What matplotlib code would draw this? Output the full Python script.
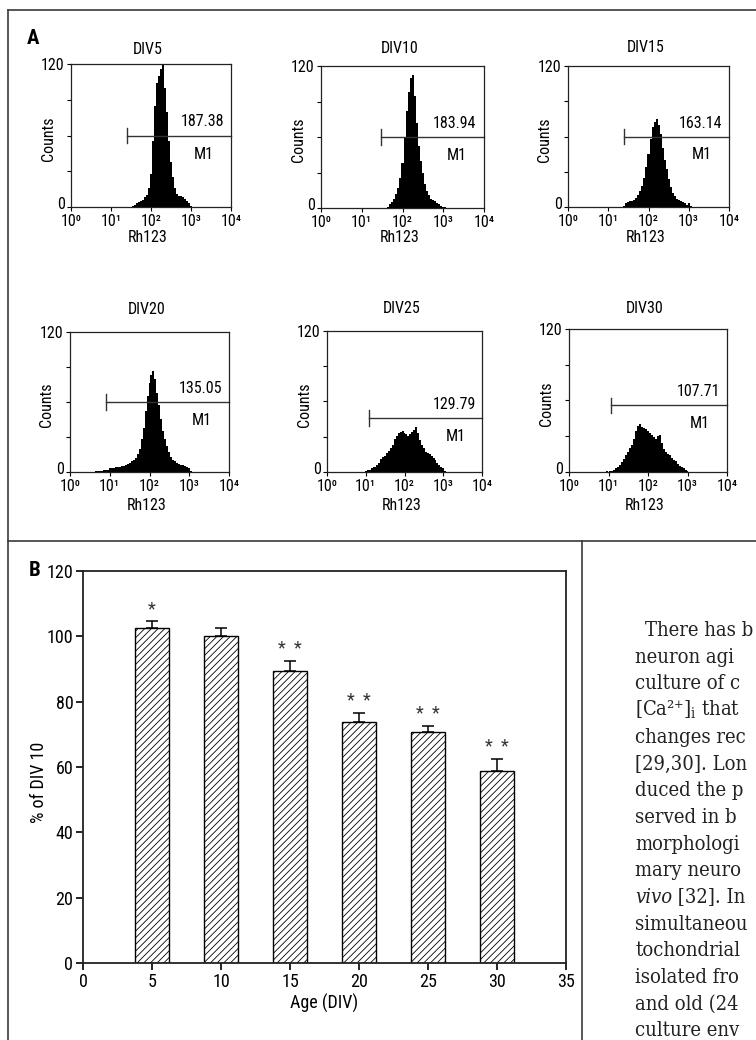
#!/usr/bin/env python3
"""Flow cytometry Rh123 histograms (A) and % of DIV10 bar chart (B)"""

import os
import numpy as np
import matplotlib
matplotlib.use("Agg")
import matplotlib.pyplot as plt
import matplotlib.font_manager as fm
from matplotlib.lines import Line2D
from matplotlib.ticker import NullFormatter
from matplotlib.transforms import ScaledTranslation

W, H = 756, 1040
DPI = 100

# ---------------- data ----------------
PANELS = ["DIV5", "DIV10", "DIV15", "DIV20", "DIV25", "DIV30"]
M1_VALUES = ["187.38", "183.94", "163.14", "135.05", "129.79", "107.71"]
M1_START = [25, 29.5, 24.5, 7.9, 12, 11.5]   # left end of the M1 gate (Rh123)
M1_LEVEL = [60, 60, 60, 60, 46, 56]           # height of the gate (counts)

BIN_STEP = 0.05                                # decades per bin
HIST_START = [1.55, 1.65, 1.40, 0.65, 1.00, 0.95]  # log10 of first bin centre
HIST_DIV5 = [1, 2, 3, 4, 5, 6, 8, 10, 16, 28, 55, 85, 104, 110, 116, 119, 100, 80,
             55, 38, 25, 16, 11, 9, 9, 8, 7, 5, 3, 1]
HIST_DIV10 = [1, 3, 5, 8, 12, 17, 25, 38, 60, 82, 98, 110, 112, 95, 72, 52, 40, 30,
              20, 14, 11, 8, 7, 6, 4, 3, 2, 1, 1]
HIST_DIV15 = [1, 3, 4, 5, 5, 6, 8, 10, 14, 18, 25, 34, 45, 58, 68, 72, 75, 70, 62,
              50, 40, 32, 24, 17, 12, 9, 7, 6, 5, 4, 3, 2, 3, 1]
HIST_DIV20 = [1, 1, 1, 1, 2, 2, 2, 3, 3, 3, 4, 4, 4, 5, 5, 6, 7, 8, 9, 10, 12, 15,
              20, 28, 38, 52, 65, 76, 83, 87, 80, 68, 57, 45, 35, 28, 22, 17, 13, 10,
              9, 8, 7, 6, 6, 5, 4, 3, 1]
HIST_DIV25 = [1, 2, 2, 3, 4, 4, 6, 8, 11, 13, 14, 16, 18, 20, 23, 28, 31, 33, 34, 35,
              33, 32, 31, 32, 34, 36, 38, 33, 27, 23, 20, 17, 16, 15, 14, 12, 10, 8,
              6, 4, 3, 1]
HIST_DIV30 = [1, 0, 1, 1, 2, 3, 4, 6, 8, 11, 14, 17, 20, 23, 28, 34, 39, 40, 38, 37,
              36, 34, 33, 31, 29, 28, 30, 31, 24, 19, 17, 15, 14, 12, 10, 9, 7, 5,
              4, 3, 2, 1]
HISTS = [HIST_DIV5, HIST_DIV10, HIST_DIV15, HIST_DIV20, HIST_DIV25, HIST_DIV30]

X_TICKS = [1, 10, 100, 1000, 10000]
X_TICK_LABELS = ["10⁰", "10¹", "10²", "10³", "10⁴"]
Y_TICKS = [0, 120]

AGE = [5, 10, 15, 20, 25, 30]
PCT = [102.4, 100.0, 89.3, 73.9, 70.6, 58.7]
SEM = [2.4, 2.4, 3.2, 2.6, 2.0, 3.7]
SIG = ["*", "", "* *", "* *", "* *", "* *"]

# body text next to panel B (cut off by the page edge)
BODY_LINES = [
    "There has b", "neuron agi", "culture of c", "[Ca²⁺]$_{\\rm i}$ that",
    "changes rec", "[29,30]. Lon", "duced the p", "served in b",
    "morphologi", "mary neuro", None, "simultaneou", "tochondrial",
    "isolated fro", "and old (24", "culture env",
]

# ---------------- layout (pixels) ----------------
HIST_BOXES = [(71, 64, 231, 207), (321, 66, 484, 208), (568, 66, 729, 207),
              (70, 332, 229, 472), (327, 331, 482, 472), (569, 329, 727, 472)]
TITLE_Y = [49, 48, 47, 310, 308, 308]
XLABEL_Y = [238, 238, 238, 506, 506, 506]
BAR_BOX = (83, 571, 566, 963)
HFS = 11.5   # histogram text size
BFS = 13     # bar chart text size


def fx(x):
    return x / W


def fy(y):
    return 1 - y / H


def setup_font():
    """細字(condensed)フォントを探す"""
    wanted = ["robotocondensed-regular", "notosans-condensed.", "opensans_condensed-regular",
              "opensans-condensed", "dejavusanscondensed.", "liberationsansnarrow-regular"]
    for w in wanted:
        for e in fm.fontManager.ttflist:
            if os.path.basename(e.fname).lower().startswith(w):
                plt.rcParams["font.family"] = [e.name, "DejaVu Sans"]
                plt.rcParams["font.stretch"] = e.stretch
                print("font:", e.name, e.stretch, e.fname)
                return True
    print("no condensed font found")
    return False


def add_axes_px(fig, box):
    l, t, r, b = box
    return fig.add_axes([fx(l), fy(b), (r - l) / W, (b - t) / H])


def draw_hist(fig, i):
    ax = add_axes_px(fig, HIST_BOXES[i])
    counts = np.array(HISTS[i], dtype=float)
    edges = 10 ** (HIST_START[i] - BIN_STEP / 2 + BIN_STEP * np.arange(len(counts) + 1))
    ax.stairs(counts, edges, fill=True, color="black", linewidth=0)

    ax.set_xscale("log")
    ax.set_xlim(1, 1e4)
    ax.set_ylim(0, 120)
    ax.set_xticks(X_TICKS)
    ax.set_xticklabels(X_TICK_LABELS)
    ax.xaxis.set_minor_formatter(NullFormatter())
    ax.set_yticks(Y_TICKS)
    ax.set_yticklabels([str(v) for v in Y_TICKS])
    ax.set_yticks([30, 60, 90], minor=True)
    ax.tick_params(axis="both", which="major", labelsize=HFS, length=3, width=0.8,
                   direction="out", top=False, right=False)
    ax.tick_params(axis="x", which="major", pad=2)
    ax.tick_params(axis="y", which="major", pad=1.5)
    ax.tick_params(axis="y", which="minor", length=3, width=0.8, direction="out")
    ax.tick_params(axis="x", which="minor", length=2, width=0.6, direction="in")
    # "0" を少し上げて 10⁰ と重ならないようにする
    lab0 = ax.yaxis.get_major_ticks()[0].label1
    lab0.set_transform(lab0.get_transform() + ScaledTranslation(0, 3 / 72, fig.dpi_scale_trans))
    for s in ax.spines.values():
        s.set_linewidth(0.9)
        s.set_color("#222222")

    # M1 gate
    lvl = M1_LEVEL[i]
    ax.plot([M1_START[i], 1e4], [lvl, lvl], color="#333333", lw=1.0, clip_on=False)
    ax.plot([M1_START[i], M1_START[i]], [lvl - 6.5, lvl + 6.5], color="#333333", lw=1.0)
    yf = lvl / 120
    ax.text(0.82, yf + 0.095, M1_VALUES[i], transform=ax.transAxes,
            ha="center", va="center", fontsize=HFS)
    ax.text(0.83, yf - 0.13, "M1", transform=ax.transAxes,
            ha="center", va="center", fontsize=HFS)

    l, t, r, b = HIST_BOXES[i]
    cx = (l + r) / 2
    fig.text(fx(cx - 3), fy(TITLE_Y[i]), PANELS[i], ha="center", va="center", fontsize=HFS)
    fig.text(fx(cx - 3), fy(XLABEL_Y[i]), "Rh123", ha="center", va="center", fontsize=HFS)
    fig.text(fx(l - 23), fy((t + b) / 2 + 3), "Counts", rotation=90,
             ha="center", va="center", fontsize=HFS)


def draw_bars(fig):
    ax = add_axes_px(fig, BAR_BOX)
    ax.bar(AGE, PCT, width=2.5, color="white", edgecolor="black", linewidth=1.0,
           hatch="/////", zorder=2)
    ax.errorbar(AGE, PCT, yerr=[np.zeros(len(SEM)), SEM], fmt="none", ecolor="black",
                elinewidth=1.1, capsize=4.5, capthick=1.1, zorder=3)
    for x, p, s, sig in zip(AGE, PCT, SEM, SIG):
        if sig:
            ax.text(x, p + s + 3.6, sig.replace(" ", "  "), ha="center", va="center",
                    fontsize=BFS, color="#333333")

    ax.set_xlim(0, 35)
    ax.set_ylim(0, 120)
    ax.set_xticks(range(0, 36, 5))
    ax.set_yticks(range(0, 121, 20))
    ax.tick_params(labelsize=BFS, length=5, width=1.2, direction="out", pad=2,
                   top=False, right=False)
    for s in ax.spines.values():
        s.set_linewidth(1.3)
        s.set_color("#222222")

    fig.text(fx(324), fy(1003), "Age (DIV)", ha="center", va="center", fontsize=BFS)
    fig.text(fx(39), fy(782), "% of DIV 10", rotation=90, ha="center", va="center",
             fontsize=BFS)


def draw_frames(fig):
    kw = dict(transform=fig.transFigure, color="#3a3a3a", linewidth=1.2)
    for (x1, y1), (x2, y2) in [((8, 10), (756, 10)), ((8, 10), (8, 1040)),
                               ((8, 541), (756, 541)), ((582, 541), (582, 1040))]:
        fig.add_artist(Line2D([fx(x1), fx(x2)], [fy(y1), fy(y2)], **kw))
    fig.text(fx(33), fy(38), "A", ha="center", va="center", fontsize=15,
             fontweight="bold")
    fig.text(fx(35), fy(571), "B", ha="center", va="center", fontsize=15,
             fontweight="bold")


def fit_right(fig, t, text):
    """ページ右端に収まるまで末尾の文字を削る"""
    r = fig.canvas.get_renderer()
    while text and not text.endswith("$") and t.get_window_extent(r).x1 > W - 1:
        text = text[:-1]
        t.set_text(text)


def draw_body(fig):
    base0, step = 636, 26.7
    kw = dict(family=["DejaVu Serif", "DejaVu Sans"], fontsize=14.5, color="#222222",
              ha="left")
    r = fig.canvas.get_renderer()
    for k, line in enumerate(BODY_LINES):
        x = 645 if k == 0 else 635
        y = base0 + step * k
        if line is None:
            t = fig.text(fx(x), fy(y), "vivo", style="italic", va="baseline", **kw)
            bb = t.get_window_extent(r)
            t2 = fig.text(bb.x1 / W, bb.y0 / H, " [32]. In", va="bottom", **kw)
            fit_right(fig, t2, t2.get_text())
            continue
        t = fig.text(fx(x), fy(y), line, va="baseline", **kw)
        fit_right(fig, t, line)


def main():
    setup_font()
    plt.rcParams["mathtext.fontset"] = "dejavuserif"
    plt.rcParams["hatch.color"] = "black"
    plt.rcParams["hatch.linewidth"] = 0.6

    fig = plt.figure(figsize=(W / DPI, H / DPI), dpi=DPI)
    fig.patch.set_facecolor("white")
    for i in range(len(PANELS)):
        draw_hist(fig, i)
    draw_bars(fig)
    draw_frames(fig)
    draw_body(fig)
    fig.savefig("out.png", dpi=DPI, facecolor="white")
    plt.close(fig)


if __name__ == "__main__":
    main()
